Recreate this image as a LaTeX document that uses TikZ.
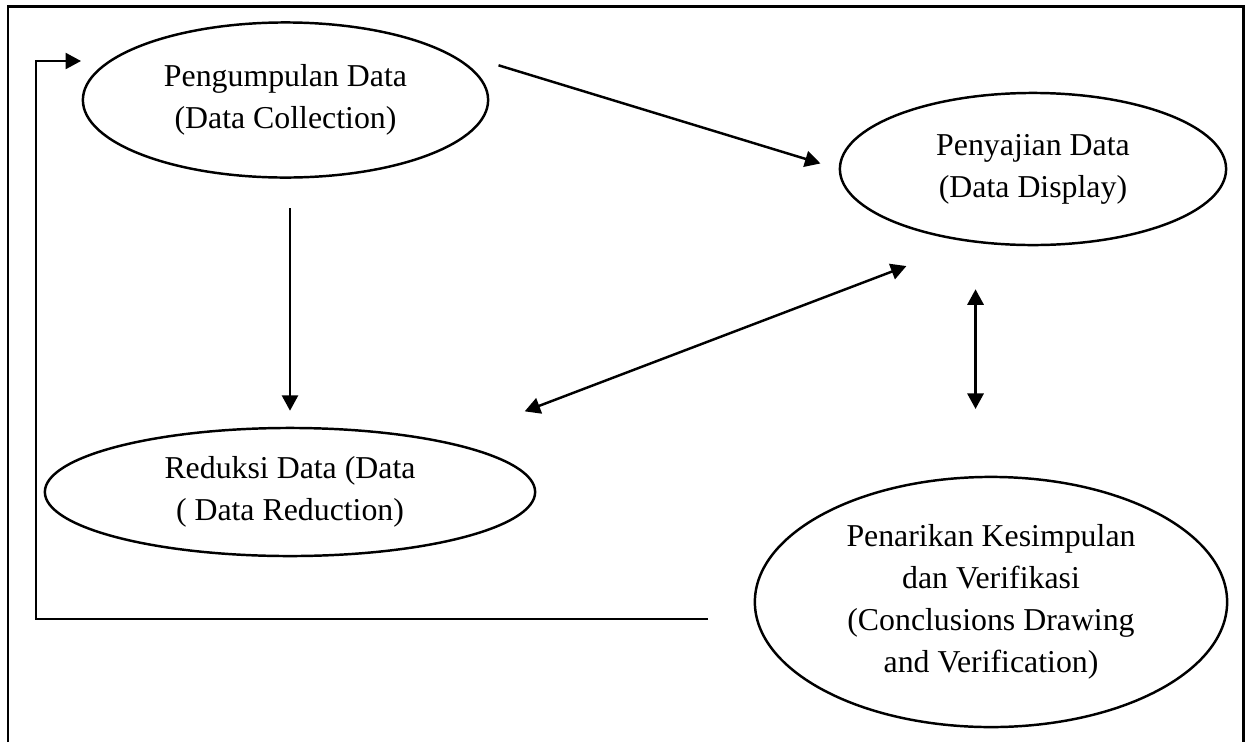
\documentclass[tikz,border=0pt]{standalone}
\usepackage{fontspec}
\setmainfont{Liberation Serif}
\usepackage{tikz}
\usetikzlibrary{arrows.meta,shapes.geometric}
\definecolor{ink}{HTML}{000000}
\tikzset{
  frame/.style={draw=ink, line width=0.8pt},
  stage/.style={ellipse, draw=ink, line width=0.7pt, inner sep=0pt, align=center,
    font=\fontsize{9.05}{11.95}\selectfont},
  arr/.style={draw=ink, line width=0.7pt, -{Triangle[length=4.4pt,width=4.6pt]}},
  dbl/.style={draw=ink, line width=0.7pt, {Triangle[length=4.4pt,width=4.6pt]}-{Triangle[length=4.4pt,width=4.6pt]}},
  loopline/.style={draw=ink, line width=0.55pt, -{Triangle[length=4.4pt,width=4.6pt]}},
}
\begin{document}
\begin{tikzpicture}[x=0.01cm, y=-0.01cm]
  \useasboundingbox (0,0) rectangle (1248,742);
  \draw[frame] (8,742) |- (1243.5,6.5) -- (1243.5,742);
  % the four stages
  \node[stage, minimum width=4.05cm, minimum height=1.55cm] (coll) at (285.5,100)
    {Pengumpulan Data\\(Data Collection)};
  \node[stage, minimum width=3.86cm, minimum height=1.52cm] (disp) at (1033,169)
    {Penyajian Data\\(Data Display)};
  \node[stage, minimum width=4.9cm, minimum height=1.28cm] (red) at (290,492)
    {Reduksi Data (Data\\( Data Reduction)};
  \node[stage, minimum width=4.72cm, minimum height=2.5cm] (concl) at (991,602)
    {Penarikan Kesimpulan\\dan Verifikasi\\(Conclusions Drawing\\and Verification)};
  % connectors
  \draw[arr, shorten <=0.72cm, shorten >=0.19cm] (coll.north east) -- (disp.west);
  \draw[arr, shorten <=0.295cm, shorten >=0.16cm] (red.north |- coll.south) -- (red.north);
  \draw[dbl, shorten <=0.845cm, shorten >=0.675cm] (red.18) -- (disp.229);
  \draw[dbl, shorten <=0.43cm, shorten >=0.67cm] (concl.97 |- disp.south) -- (concl.97);
  \coordinate (fbstart) at (708,619);
  \coordinate (fbcorner) at (36,619);
  \coordinate (fbend) at (81,61);
  \draw[loopline] (fbstart) -- (fbcorner) |- (fbend);
\end{tikzpicture}
\end{document}
